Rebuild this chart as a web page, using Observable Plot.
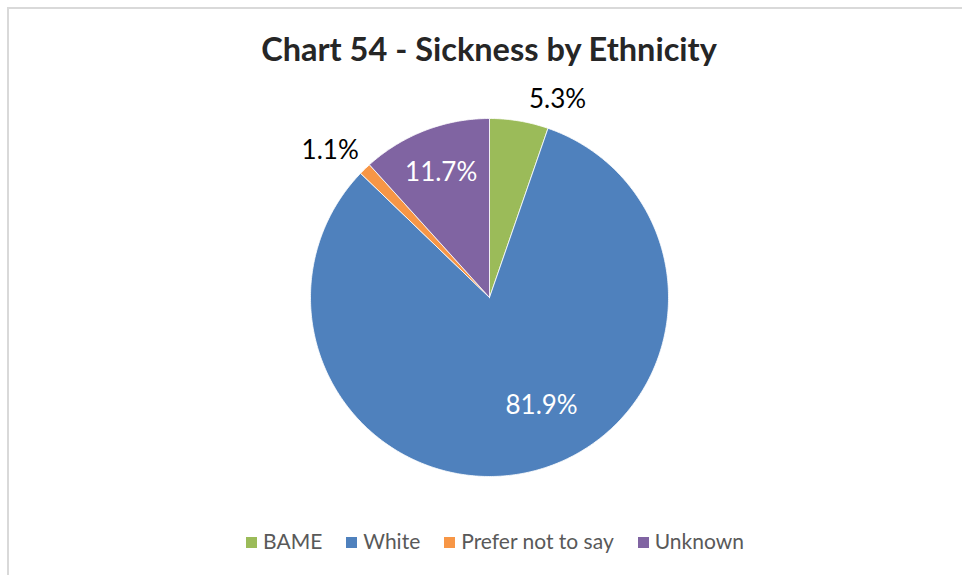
<!DOCTYPE html>
<html>
<head>
<meta charset="utf-8">
<script src="https://cdn.jsdelivr.net/npm/d3@7"></script>
<script src="https://cdn.jsdelivr.net/npm/@observablehq/plot@0.6"></script>
<style>
  html, body { margin: 0; padding: 0; background: #fff; }
  body { width: 962px; height: 575px; position: relative; overflow: hidden; font-family: Lato, "Open Sans", sans-serif; }
  #frame { position: absolute; left: 7px; top: 7px; width: 1000px; height: 600px; border-left: 2px solid #d9d9d9; border-top: 2px solid #d9d9d9; }
  #title { position: absolute; left: 0; width: 978px; top: 29px; text-align: center; font-weight: 700; font-size: 32.5px; color: #262626; line-height: 40px; }
  #chart { position: absolute; left: 0; top: 80px; }
  #legend { position: absolute; left: 6px; width: 978px; top: 528px; text-align: center; font-size: 21px; color: #595959; line-height: 26px; }
  #legend span.item { display: inline-block; margin: 0 12px; }
  #legend span.sw { display: inline-block; width: 11px; height: 11px; margin-right: 6px; vertical-align: 1px; }
</style>
</head>
<body>
<div id="frame"></div>
<div id="title">Chart 54 - Sickness by Ethnicity</div>
<div id="chart"></div>
<div id="legend"></div>
<script>
const categories = ["BAME", "White", "Prefer not to say", "Unknown"];
const values = [5.3, 81.9, 1.1, 11.7];
const labels = ["5.3%", "81.9%", "1.1%", "11.7%"];
const colors = ["#9BBB59", "#4F81BD", "#F79646", "#8064A2"];
const outside = [true, false, true, false];

const data = categories.map((name, i) => ({name, value: values[i], label: labels[i], outside: outside[i]}));
const arcs = d3.pie().sort(null).value(d => d.value)(data);

// polygon outline of each slice, in unit-circle coordinates (y up, angle clockwise from 12 o'clock)
const poly = [];
arcs.forEach(a => {
  const name = a.data.name;
  poly.push({name, x: 0, y: 0});
  const n = Math.max(2, Math.ceil((a.endAngle - a.startAngle) / 0.01));
  for (let k = 0; k <= n; k++) {
    const t = a.startAngle + (a.endAngle - a.startAngle) * k / n;
    poly.push({name, x: Math.sin(t), y: Math.cos(t)});
  }
  poly.push({name, x: 0, y: 0});
});

const lab = arcs.map(a => {
  const m = (a.startAngle + a.endAngle) / 2;
  const r = a.data.outside ? 1.13 : 0.72;
  return {name: a.data.name, label: a.data.label, outside: a.data.outside, big: a.data.value > 50,
    x: Math.sin(m) * r, y: Math.cos(m) * r,
    anchor: a.data.outside ? (Math.sin(m) >= 0 ? "start" : "end") : "middle"};
});

const R = 179, cx = 489, cy = 217, H = 430;
const chart = Plot.plot({
  width: 962,
  height: H,
  marginLeft: cx - R,
  marginRight: 962 - (cx + R),
  marginTop: cy - R,
  marginBottom: H - (cy + R),
  x: {domain: [-1, 1], axis: null},
  y: {domain: [-1, 1], axis: null},
  color: {domain: categories, range: colors},
  style: {background: "transparent", fontFamily: "Lato, 'Open Sans', sans-serif"},
  marks: [
    Plot.line(poly, {x: "x", y: "y", z: "name", fill: "name", stroke: "#ffffff", strokeWidth: 0.8, curve: "linear-closed"}),
    Plot.text(lab.filter(d => !d.outside && !d.big), {x: "x", y: "y", text: "label", fill: "#ffffff", fontSize: 26, textAnchor: "middle", dx: -2, dy: -5}),
    Plot.text(lab.filter(d => !d.outside && d.big), {x: "x", y: "y", text: "label", fill: "#ffffff", fontSize: 26, textAnchor: "middle", dx: 22, dy: -17}),
    Plot.text(lab.filter(d => d.outside && d.anchor === "start"), {x: "x", y: "y", text: "label", fill: "#000000", fontSize: 26, textAnchor: "start", dx: 6, dy: 2}),
    Plot.text(lab.filter(d => d.outside && d.anchor === "end"), {x: "x", y: "y", text: "label", fill: "#000000", fontSize: 26, textAnchor: "end", dx: 10, dy: -2})
  ]
});
document.getElementById("chart").appendChild(chart);

const legend = document.getElementById("legend");
categories.forEach((c, i) => {
  const it = document.createElement("span");
  it.className = "item";
  const sw = document.createElement("span");
  sw.className = "sw";
  sw.style.background = colors[i];
  it.appendChild(sw);
  it.appendChild(document.createTextNode(c));
  legend.appendChild(it);
});
</script>
</body>
</html>
